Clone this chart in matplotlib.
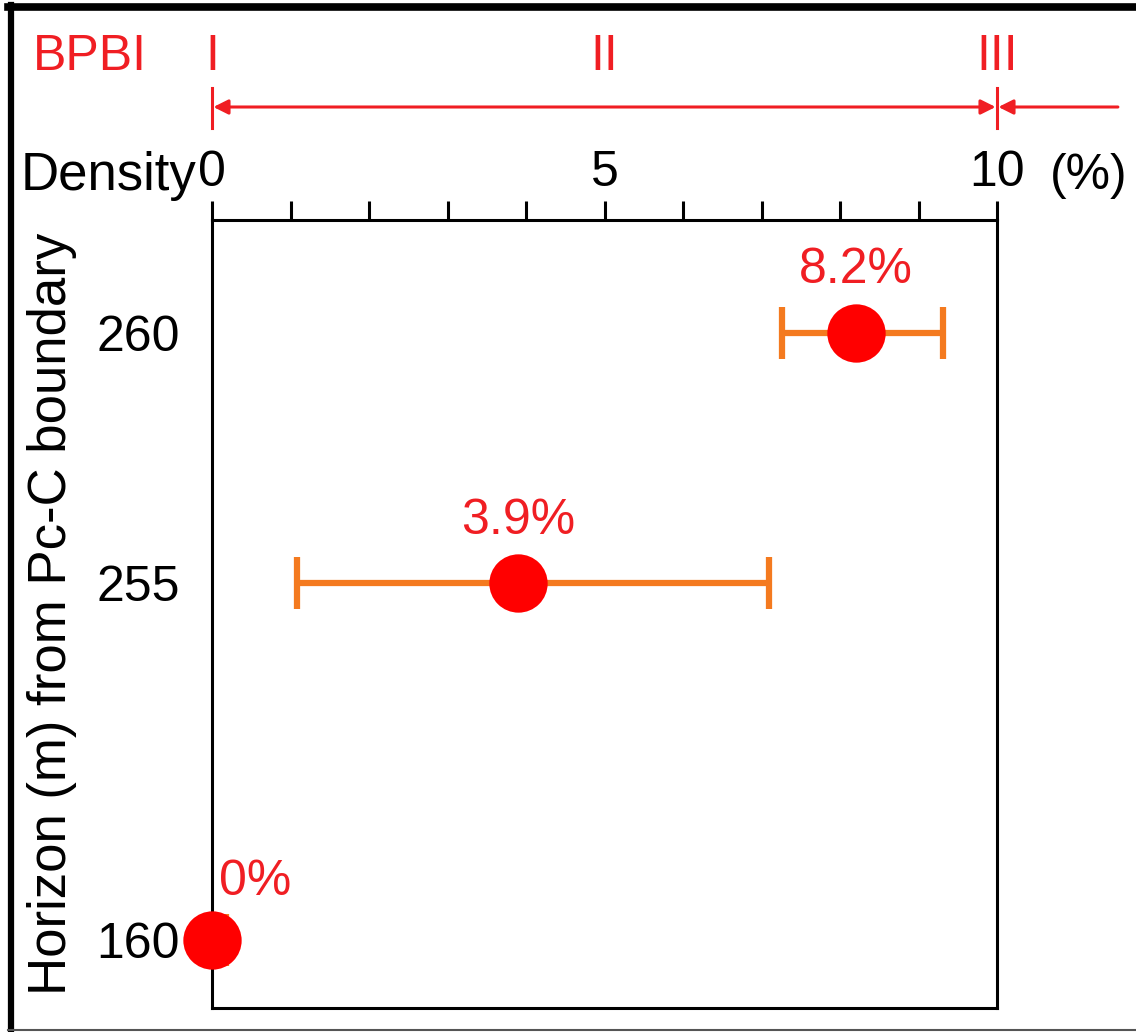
import matplotlib.pyplot as plt
import matplotlib.transforms as mtransforms
from matplotlib.lines import Line2D
import numpy as np

plt.rcParams['font.family'] = ['Liberation Sans', 'DejaVu Sans']

# horizons (m above the Pc-C boundary) and BPBI density (%)
horizon_labels = ['260', '255', '160']
density = [8.2, 3.9, 0.0]
density_low = [7.26, 1.08, 0.0]
density_high = [9.31, 7.10, 0.18]
density_text = ['8.2%', '3.9%', '0%']

# BPBI zones along the density scale
zone_names = ['I', 'II', 'III']
zone_x = [0, 5, 10]

# vertical placement of the horizons (axes fraction, not to scale)
row_pos = [0.857, 0.539, 0.086]

red = '#f01e23'
orange = '#f47a1f'

W, H = 1136, 1032
fig = plt.figure(figsize=(W / 100, H / 100), dpi=100)
ax = fig.add_axes([212 / W, 24 / H, 785 / W, 788 / H])

ax.set_xlim(0, 10)
ax.set_ylim(0, 1)

lo = np.array(density) - np.array(density_low)
hi = np.array(density_high) - np.array(density)
ax.errorbar(density, row_pos, xerr=[lo, hi], fmt='none', ecolor=orange,
            elinewidth=4.5, capsize=19, capthick=4.5, clip_on=False, zorder=3)
ax.plot(density, row_pos, 'o', color='red', markersize=42, markeredgewidth=0,
        clip_on=False, zorder=4)

for d, y, t in zip(density, row_pos, density_text):
    if d == 0:
        ax.annotate(t, (d, y), xytext=(5, 42), textcoords='offset points',
                    ha='left', va='center', fontsize=36, color=red)
    else:
        ax.annotate(t, (d, y), xytext=(0, 45), textcoords='offset points',
                    ha='center', va='center', fontsize=36, color=red)

# axes styling
for s in ax.spines.values():
    s.set_linewidth(2.2)
ax.xaxis.tick_top()
ax.set_xticks([0, 5, 10])
ax.set_xticks(np.arange(1, 10), minor=True)
ax.tick_params(axis='x', which='both', direction='out', length=14, width=2.2,
               labelsize=36, pad=3)
ax.set_yticks(row_pos, horizon_labels)
ax.tick_params(axis='y', length=0, labelsize=36, pad=23)
ax.set_ylabel('Horizon (m) from Pc-C boundary', fontsize=38, labelpad=14)

ax.annotate('Density', (0, 1), xytext=(-11, 32), textcoords='offset points',
            xycoords=ax.get_xaxis_transform(), ha='right', va='center',
            fontsize=38)
ax.annotate('(%)', (10, 1), xytext=(38, 32), textcoords='offset points',
            xycoords=ax.get_xaxis_transform(), ha='left', va='center',
            fontsize=36)

# BPBI zone bar above the density scale
trans = mtransforms.blended_transform_factory(ax.transData, fig.transFigure)
y_arrow = 1 - 107 / H
fig.text(33 / W, 1 - 57 / H, 'BPBI', ha='left', va='center', fontsize=36,
         color=red)
for name, x in zip(zone_names, zone_x):
    ax.text(x, 1 - 57 / H, name, transform=trans, ha='center', va='center',
            fontsize=36, color=red, clip_on=False)
for x in [zone_x[0], zone_x[-1]]:
    ax.add_line(Line2D([x, x], [1 - 88 / H, 1 - 128 / H], transform=trans,
                       color=red, lw=2.2, clip_on=False))
ax.annotate('', xy=(zone_x[0], y_arrow), xytext=(zone_x[-1], y_arrow),
            xycoords=trans, textcoords=trans,
            arrowprops=dict(arrowstyle='<|-|>', color=red, lw=2.2,
                            mutation_scale=22, shrinkA=1, shrinkB=1))
ax.annotate('', xy=(zone_x[-1], y_arrow), xytext=(11.54, y_arrow),
            xycoords=trans, textcoords=trans,
            arrowprops=dict(arrowstyle='-|>', color=red, lw=2.2,
                            mutation_scale=22, shrinkA=0, shrinkB=1))

# outer frame
fig.add_artist(Line2D([8 / W, 1], [1 - 7 / H, 1 - 7 / H], color='black',
                      lw=5.5, transform=fig.transFigure))
fig.add_artist(Line2D([10.5 / W, 10.5 / W], [2 / H, 1 - 5 / H], color='black',
                      lw=4.5, transform=fig.transFigure))
fig.add_artist(Line2D([8 / W, 1], [2 / H, 2 / H], color='#555555',
                      lw=1.5, transform=fig.transFigure))

fig.savefig('out.png', dpi=100)
